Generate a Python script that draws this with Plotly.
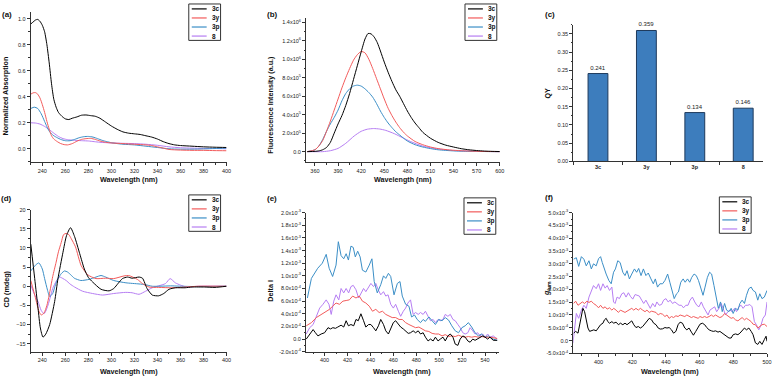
import plotly.graph_objects as go

W, H = 778, 380
FONT = "Liberation Sans, Arial, sans-serif"

names = ["3c", "3y", "3p", "8"]
colors = ["#000000", "#f25b5b", "#3b8ec6", "#b67ef2"]

# (a) normalized absorption
a_3c_x = [230,232,234,236,238,240,242,244,246,248,250,252,254,257,260,263,266,270,274,278,282,286,290,295,300,305,310,315,320,325,330,335,340,345,350,355,360,370,380,390,400]
a_3c_y = [0.96,0.975,0.99,0.995,0.98,0.95,0.9,0.8,0.66,0.5,0.38,0.32,0.28,0.25,0.23,0.225,0.235,0.245,0.258,0.26,0.255,0.25,0.235,0.205,0.175,0.15,0.13,0.12,0.115,0.11,0.1,0.09,0.075,0.055,0.04,0.03,0.025,0.02,0.015,0.012,0.01]
a_3y_x = [230,232,234,236,238,240,242,244,246,248,250,253,256,259,262,266,270,274,278,282,286,290,295,300,310,320,330,335,340,345,350,360,370,380,390,400]
a_3y_y = [0.42,0.43,0.432,0.42,0.39,0.34,0.28,0.21,0.15,0.1,0.075,0.055,0.04,0.032,0.03,0.04,0.058,0.072,0.078,0.08,0.072,0.06,0.05,0.045,0.04,0.035,0.03,0.025,0.015,0.005,-0.005,-0.01,-0.012,-0.012,-0.014,-0.015]
a_3p_x = [230,233,236,239,242,244,246,248,250,253,256,260,264,268,272,276,280,284,288,292,296,300,305,310,320,330,340,350,360,370,380,390,400]
a_3p_y = [0.31,0.32,0.31,0.27,0.21,0.17,0.135,0.115,0.1,0.085,0.072,0.062,0.062,0.072,0.085,0.093,0.095,0.09,0.078,0.065,0.055,0.047,0.04,0.035,0.03,0.02,0.01,0.0,-0.003,-0.003,-0.001,0.002,0.005]
a_8_x = [230,234,238,242,246,250,254,258,262,266,270,275,280,285,290,300,310,320,330,340,350,360,370,380,390,400]
a_8_y = [0.2,0.198,0.19,0.172,0.148,0.12,0.095,0.078,0.07,0.066,0.064,0.062,0.06,0.055,0.05,0.045,0.042,0.04,0.035,0.027,0.015,0.008,0.005,0.003,0.002,0.0]

# (b) fluorescence intensity, in units of 1e6
b_3c_x = [350,360,365,370,375,380,385,390,395,400,405,410,415,420,425,429,433,437,441,445,450,455,460,465,470,475,480,485,490,495,500,510,520,530,540,550,560,570,580,590,600]
b_3c_y = [0.0,0.003,0.008,0.02,0.045,0.1,0.2,0.3,0.39,0.5,0.63,0.78,0.93,1.08,1.22,1.28,1.275,1.24,1.18,1.09,0.97,0.86,0.76,0.67,0.6,0.52,0.44,0.37,0.31,0.26,0.21,0.145,0.1,0.07,0.05,0.032,0.02,0.012,0.006,0.003,0.001]
b_3y_x = [350,360,365,370,375,380,385,390,395,400,405,410,415,420,425,430,435,440,445,450,455,460,465,470,475,480,490,500,510,520,535,550,570,600]
b_3y_y = [0.0,0.02,0.06,0.12,0.22,0.33,0.45,0.57,0.69,0.8,0.9,0.99,1.05,1.085,1.07,1.0,0.9,0.79,0.68,0.57,0.47,0.39,0.32,0.26,0.21,0.17,0.11,0.075,0.05,0.033,0.018,0.01,0.003,0.0]
b_3p_x = [350,360,365,370,375,380,385,390,395,400,405,410,415,420,425,430,435,440,445,450,455,460,465,470,480,490,500,510,520,540,560,600]
b_3p_y = [0.0,0.02,0.06,0.13,0.22,0.3,0.37,0.45,0.55,0.63,0.68,0.71,0.72,0.71,0.68,0.64,0.59,0.52,0.44,0.37,0.31,0.26,0.215,0.18,0.115,0.075,0.05,0.033,0.02,0.008,0.003,0.0]
b_8_x = [350,370,380,390,400,411,420,428,436,444,452,463,474,484,500,520,540,570,600]
b_8_y = [0.0,0.0,0.01,0.035,0.09,0.17,0.22,0.243,0.25,0.245,0.23,0.195,0.15,0.11,0.06,0.028,0.012,0.003,0.0]
b_ticks = [0, 0.2, 0.4, 0.6, 0.8, 1.0, 1.2, 1.4]
b_ticktext = ["0.0", "2.0x10<sup>5</sup>", "4.0x10<sup>5</sup>", "6.0x10<sup>5</sup>", "8.0x10<sup>5</sup>",
              "1.0x10<sup>6</sup>", "1.2x10<sup>6</sup>", "1.4x10<sup>6</sup>"]

# (c) quantum yield
qy = [0.241, 0.359, 0.134, 0.146]

# (d) CD
d_3c_x = [230,233.4,236.3,238.3,240.6,243,246.4,250.7,253.6,257.9,261,264.5,268,272.5,276.5,280,283.7,291,298,302,306,309.6,314,318,324,327,331,335.5,341,345.5,350,355.6,364,370,381,390,400]
d_3c_y = [11,2,-5.8,-10.9,-13.3,-12.5,-10,-4,2,8.8,13.2,15.3,13,8.5,4.5,2.3,1.1,-0.8,-1.2,-0.6,0.8,2,2.4,2.1,2.4,2.1,-0.6,-2.3,-2.5,-1.9,-0.8,-0.4,-0.4,-0.2,-0.2,-0.3,0]
d_3y_x = [230,234,237,239,241.5,244,246,249,252,254,256.4,258.5,260.7,263,265,268.8,273.7,279.4,286.6,295,302,311,315,322.5,327,332.6,341,352.6,364,375.6,400]
d_3y_y = [1.5,-3,-6.5,-7.5,-7,-5,-2.3,2.5,6.3,9,11.4,13.5,13.8,13.5,12.5,10.3,5.4,3,2,2.1,2,2.7,2.8,1.8,0.7,-0.2,-0.3,-0.4,-0.2,0,0]
d_3p_x = [230,234,237,240,242,244.5,246.4,249,251,253.6,256.5,259.3,262,265,267.8,273.5,280.7,286.6,291,295,302,312.6,324,329.7,335.5,352.7,361,375.7,400]
d_3p_y = [4,5.5,6.1,4.5,2,-1,-2.7,-1.9,0,2,3.3,4,3.7,2.9,2.1,1.5,1.8,2.4,2.8,2.4,1.5,0.9,0.6,0.4,0,0.1,0,-0.1,0]
d_8_x = [230,233,236.3,239,241.5,243,245,247,249,252,255,258,260.7,264,268,275,283.7,292.4,302,312.5,318,324,329.7,335.5,341,347,351,355.5,360,365.5,375.6,400]
d_8_y = [0.3,-2,-4,-6.3,-7.2,-6.5,-4.9,-2.8,-0.6,1.3,2.4,2.0,1.5,0.6,-0.2,-1.3,-1.9,-2.3,-1.9,-1.6,-1.7,-2.1,-1.3,-0.4,0.1,0.7,2,0.9,0.3,-0.2,0,0]

# (e) delta I, in units of 1e-4
e_3c_x = [384,387,390,392,394.2,397,400,403,405.2,407.2,409.5,411.5,414.4,416.7,418.8,420.8,423,425.4,427.4,429.4,431.7,434,436,438.4,440.4,442.7,444.7,447,449,451.4,453.4,455.7,457.7,460,462,464.4,466.4,468.7,470.7,473,475,477.3,479.4,481.7,483.7,486,488,490.3,492.4,494.7,496.7,499,501,503.3,505.3,507.6,509.7,512,514,516.3,518.3,520.6,522.7,525,527,529.3,531.3,533.6,535.6,538,540,542.3,544.3,547.2,550.6]
e_3c_y = [0,0.8,1.5,1,0.5,0.8,1,1.8,1.6,1.8,1.7,1.9,2.2,1.9,2.9,2.1,2.3,2.1,3.1,2.9,4,2.9,1.9,2.3,2.3,1.8,1.3,2.1,3.1,2.3,1.3,0.8,1.8,2.6,2.9,2.3,1.9,1.6,1.3,0.9,1,1.3,1,1.3,0.8,1,0.3,-0.3,0,-0.3,0.3,-0.3,0,0.3,-0.3,0.5,0.8,0.3,-0.8,-1,0,0.5,0.3,-0.3,-0.5,0,-0.2,0,0.3,0.5,0.3,0,0.3,-0.2,-0.2]
e_3y_x = [384,388.5,392.8,397,401.4,404.3,407,410,413,416,418.8,421.6,424.5,427.4,430.3,433,436,439,441.8,444.7,447.6,450.5,453.4,456.3,459,462,465,467.8,470.7,473.6,476.5,479.4,482.3,485,488,491,493.8,496.7,499.6,502.5,505.3,508.2,511,514,516.9,519.8,522.7,525.5,528.4,531.3,534.2,537,540,544.3,550.6]
e_3y_y = [2.1,2.6,3.4,3.9,4.4,4.7,5.2,5.7,5.5,6,6.1,6.2,6.8,6.5,6.8,6,5.7,5.2,4.4,4.7,4.2,4.4,3.9,3.6,3.4,3.4,3.1,3.1,2.6,2.3,2.1,1.8,1.9,1.6,1.3,1.2,0.9,0.8,0.8,0.5,0.7,0.4,0.5,0.4,0.6,0.4,0.3,0.4,0.3,0.4,0.3,0.4,0.3,0.3,0.1]
e_3p_x = [385,388.5,394,398,401.4,404,407,410,412,414.4,416.7,418.8,420.8,423,425,426.8,428.9,431,433,436,439,441.3,443.3,446,449,451.4,453.4,455.7,457.7,460.6,463.5,465.8,467.8,470.7,473.6,475.9,478.5,480.8,483.7,486,488,491,493.8,496.7,499.6,502.5,505.3,508.2,511,514,516.9,519.8,522.7,525.5,528.4,531.3,534.2,537,540,543,547,550.6]
e_3p_y = [6.5,9.6,11.2,12,13.4,11.2,9.9,11.7,15.4,13.2,12.7,13.5,12.5,14.7,14.5,13,13.9,13,10.9,10.6,11.7,12.7,9.1,7.3,8.6,10,9.6,10.4,9.9,7,8.8,9.1,6.8,5.5,5.2,3.5,3.8,3.1,2.6,3.1,2.8,3.5,2.9,2.3,3.1,2.9,3.4,3,2.1,1.3,1,1.8,2.1,2.6,1.9,1,0.5,0.8,0.3,0.5,0,-0.2]
e_8_x = [384,387,390,392.8,395.7,398.6,401.4,403.8,405.8,408,410,412.4,414.4,416.7,418.8,421,423,425,427.4,429.7,431.7,434,436,438.4,440.4,442.7,444.7,446.8,449,451.4,453.4,455.4,457.7,460,462,464.4,466.4,468.7,470.7,472.7,475,477.3,479.4,481.7,483.7,486,488,490.3,492.4,494.7,496.7,499,501,503.3,505.3,507.6,509.7,512,514,516.3,518.3,520.6,522.7,525,527,529.3,531.3,533.6,535.6,538,540,542.3,544.3,547.2,550.6]
e_8_y = [0.8,1.8,2.3,3.6,4.9,5.5,6.2,5.5,3.9,6,7,6.2,8,7.3,8,7.3,8.3,8.5,7.8,6.5,7.3,8,7.5,8.3,8.8,8.3,8.8,7.8,7,7.5,6.8,7,5.5,4.9,5.5,4.4,3.6,4.4,4.9,5.7,6.2,3.9,4.2,3.9,4.2,3.9,4.4,3.6,2.9,3.1,2.6,3.1,2.9,3.1,3.9,3.6,3.9,3.1,2.9,2.3,1.8,1,0.8,1,1.8,1.3,0.8,1,0.5,0.8,0.3,0.8,0.3,0.5,0]
e_ticks = [-2, 0, 2, 4, 6, 8, 10, 12, 14, 16, 18, 20]
e_ticktext = ["-2.0x10<sup>-4</sup>", "0.0", "2.0x10<sup>-4</sup>", "4.0x10<sup>-4</sup>", "6.0x10<sup>-4</sup>",
              "8.0x10<sup>-4</sup>", "1.0x10<sup>-3</sup>", "1.2x10<sup>-3</sup>", "1.4x10<sup>-3</sup>",
              "1.6x10<sup>-3</sup>", "1.8x10<sup>-3</sup>", "2.0x10<sup>-3</sup>"]

# (f) g_lum, in units of 1e-3
f_3c_x = [385.2,386.4,387.8,388.8,389.8,390.7,391.7,392.7,393.7,394.7,396,397.2,398.6,400,401.2,402.6,403.5,404.5,405.5,406.5,407.9,409,410.4,411.8,413,414.4,415.7,416.9,418.3,419.7,420.9,422.2,423.6,424.8,426.2,427.6,428.7,430.1,431.5,432.7,434.1,435.4,436.6,438,439.4,440.6,441.9,443.3,444.5,445.9,447.2,448.4,449.8,451.2,452.4,453.7,455.1,456.3,457.7,459.1,460.2,461.6,463,464.2,465.6,467,468.1,469.5,470.9,472,473.4,474.8,476,477.4,478.7,479.9,481.3,482.7,483.9,485.2,486.6,487.8,489.2,490.6,491.7,493.1,494.5,495.7,497,498.4,499.4,500]
f_3c_y = [0.29,0.36,0.29,0.62,1.06,1.26,1.13,0.81,0.49,0.36,0.38,0.42,0.38,0.49,0.62,0.68,0.81,0.87,0.74,0.68,0.74,0.68,0.72,0.62,0.68,0.62,0.68,0.62,0.68,0.77,0.62,0.51,0.55,0.49,0.55,0.68,0.74,0.87,0.81,0.68,0.62,0.49,0.45,0.46,0.51,0.49,0.51,0.42,0.29,0.36,0.62,0.72,0.68,0.49,0.42,0.49,0.33,0.21,0.36,0.55,0.64,0.68,0.62,0.51,0.42,0.38,0.36,0.38,0.33,0.36,0.29,0.23,0.17,0.1,0.1,0.23,0.26,0.23,0.29,0.38,0.49,0.42,0.49,0.36,0.23,-0.09,-0.15,-0.03,-0.15,0.04,0.17,-0.03]
f_3y_x = [385.2,386.4,387.8,389.2,390.4,391.7,393.1,394.3,395.7,397,398.6,400,401.2,402.6,403.9,405.1,406.5,407.9,409,410.4,411.8,413,414.4,415.7,416.9,418.3,419.7,420.9,422.2,423.6,424.8,426.2,427.6,428.7,430.1,431.5,432.7,434.1,435.4,436.6,438,439.4,440.6,441.9,443.3,444.5,445.9,447.2,448.4,449.8,451.2,452.4,453.7,455.1,456.3,457.7,459.1,460.2,461.6,463,464.2,465.6,467,468.1,469.5,470.9,472,473.4,474.8,476,477.4,478.7,479.9,481.3,482.7,483.9,485.2,486.6,487.8,489.2,490.6,491.7,493.1,494.5,495.7,497,498.4,500]
f_3y_y = [1.45,1.54,1.38,1.45,1.51,1.45,1.54,1.49,1.54,1.45,1.38,1.28,1.38,1.26,1.32,1.23,1.28,1.19,1.26,1.19,1.1,1.19,1.13,1.1,1.15,1.19,1.26,1.19,1.26,1.19,1.26,1.19,1.13,1.19,1.1,1.15,1.13,1.1,1,1.06,1.03,0.94,1,0.87,0.94,0.9,0.97,0.94,1,0.97,0.94,1,0.94,0.9,0.94,0.9,0.87,0.94,0.9,0.94,0.9,0.94,1,0.94,1,0.94,0.9,0.94,1.06,1,0.94,0.87,0.9,0.81,0.77,0.85,0.9,0.81,0.87,0.81,0.74,0.64,0.62,0.49,0.55,0.62,0.64,0.55]
f_3p_x = [385.2,386.8,388.2,389.8,391.3,392.7,394.3,395.7,397,398.6,400,401.2,402.2,403.1,404.5,406.1,407.5,408.9,410,411.4,412.8,414.4,415.7,416.9,418.3,419.7,421.3,422.6,423.8,425.2,426.6,428.1,429.5,431.1,432.5,433.7,435,436.4,438,439.4,441,442.3,443.5,444.9,446.3,447.4,448.8,450.2,451.4,452.8,454.1,455.3,456.7,458,459.3,460.6,462,463.2,464.6,465.9,467.1,468.5,469.9,471.1,472.4,473.4,474.8,476,477.4,478.7,479.9,481.3,482.7,483.9,485.2,486.6,487.8,489.2,490.6,491.7,493.1,494.5,495.7,497,498.4,500]
f_3p_y = [3.18,3.24,2.9,3.28,3.18,2.92,3.12,2.8,3,2.92,3.2,3.28,3.05,2.86,2.6,2.35,2.22,2.67,2.8,3.12,3.05,2.67,2.54,2.73,2.41,2.6,2.8,2.67,2.82,2.54,2.8,2.54,2.64,2.41,2.22,2.41,2.09,2.22,2.22,2.35,2.6,2.28,1.96,1.64,1.83,1.9,2.28,2.41,2.28,2.41,2.28,2.47,2.6,2.54,2.35,2.03,1.77,2.09,2.47,2.67,2.6,2.15,1.7,1.26,1.51,1.13,1.45,1.19,1.13,1.26,1.06,1.26,1.19,1.45,1.58,1.45,1.77,2.03,2.09,1.96,1.9,1.58,1.83,1.64,1.7,1.96]
f_8_x = [384.8,385.8,386.8,388.2,389.8,391.3,392.7,394.3,395.7,397,398.6,400,401.2,402.6,403.9,405.1,406.5,407.9,408.9,409.8,411,412.4,413.8,415,416.3,417.7,418.9,420.3,421.7,422.8,424.2,425.6,426.8,428.1,429.5,430.7,432.1,433.5,434.6,436,437.4,438.6,440,441.3,442.5,443.9,445.3,446.5,447.8,449.2,450.4,451.8,453.1,454.3,455.7,457.1,458.3,459.6,461,462.2,463.6,465,466.1,467.5,468.9,470.1,471.5,472.8,474,475.4,476.8,478,479.3,480.7,481.9,483.3,484.6,485.8,487.2,488.6,489.8,491.1,492.5,493.7,495.1,496.5,497.6,499,500]
f_8_y = [-0.1,0.49,1.06,0.87,1.19,1.38,1.26,1.7,1.96,2.15,2.03,2.22,1.96,2.22,2.05,2.15,1.96,2.09,1.51,1.45,1.7,1.64,1.83,1.87,1.7,1.87,1.73,1.62,1.8,1.77,1.74,1.58,1.45,1.58,1.38,1.26,1.45,1.32,1.51,1.38,1.41,1.58,1.64,1.51,1.58,1.45,1.51,1.45,1.38,1.38,1.28,1.38,1.38,1.58,1.7,1.51,1.38,1.32,1.51,1.32,1.13,1,1.19,1.26,1.32,1.13,1.26,1.45,1.26,1,1.13,1.19,1.13,1.26,1.13,1.32,1.38,1.26,1.38,1.38,1.41,1.32,0.74,0.62,0.42,0.62,0.87,1,1.51]
f_ticks = [-0.5, 0, 0.5, 1.0, 1.5, 2.0, 2.5, 3.0, 3.5, 4.0, 4.5, 5.0]
f_ticktext = ["-5.0x10<sup>-4</sup>", "0.0", "5.0x10<sup>-4</sup>", "1.0x10<sup>-3</sup>", "1.5x10<sup>-3</sup>",
              "2.0x10<sup>-3</sup>", "2.5x10<sup>-3</sup>", "3.0x10<sup>-3</sup>", "3.5x10<sup>-3</sup>",
              "4.0x10<sup>-3</sup>", "4.5x10<sup>-3</sup>", "5.0x10<sup>-3</sup>"]


def px(x):
    return x / W


def py(y):
    return 1 - y / H


def axis(xd, anchor, rng, **kw):
    d = dict(domain=xd, anchor=anchor, range=rng, showline=True, linecolor="#333", linewidth=1,
             ticks="outside", ticklen=3, tickwidth=1, tickcolor="#333",
             tickfont=dict(size=5.5, color="#222", family=FONT),
             showgrid=False, zeroline=False)
    d.update(kw)
    return d


def minor(step):
    return dict(ticks="outside", ticklen=1.5, tickwidth=1, tickcolor="#333", dtick=step, showgrid=False)


fig = go.Figure()

panels = [
    ("x", "y", [(a_3c_x, a_3c_y), (a_3y_x, a_3y_y), (a_3p_x, a_3p_y), (a_8_x, a_8_y)], "spline"),
    ("x2", "y2", [(b_3c_x, b_3c_y), (b_3y_x, b_3y_y), (b_3p_x, b_3p_y), (b_8_x, b_8_y)], "spline"),
    ("x4", "y4", [(d_3c_x, d_3c_y), (d_3y_x, d_3y_y), (d_3p_x, d_3p_y), (d_8_x, d_8_y)], "spline"),
    ("x5", "y5", [(e_3c_x, e_3c_y), (e_3y_x, e_3y_y), (e_3p_x, e_3p_y), (e_8_x, e_8_y)], "linear"),
    ("x6", "y6", [(f_3c_x, f_3c_y), (f_3y_x, f_3y_y), (f_3p_x, f_3p_y), (f_8_x, f_8_y)], "linear"),
]
for xa, ya, series, shape in panels:
    # draw back to front so black sits on top like the original
    for (xs, ys), n, c in reversed(list(zip(series, names, colors))):
        line = dict(color=c, width=1)
        if shape == "spline":
            line.update(shape="spline", smoothing=0.6)
        fig.add_trace(go.Scatter(x=xs, y=ys, mode="lines", name=n, line=line,
                                 xaxis=xa, yaxis=ya, showlegend=False))

fig.add_trace(go.Bar(x=names, y=qy, xaxis="x3", yaxis="y3", width=0.41,
                     marker=dict(color="#3d7dbd", line=dict(color="#1e3a5c", width=1)),
                     text=[f"{v:.3f}" for v in qy], textposition="outside",
                     textfont=dict(size=6, family=FONT, color="#222"),
                     cliponaxis=False, showlegend=False))

top_y = [py(162), py(9.4)]
fig.update_layout(
    xaxis=axis([px(31), px(228)], "y", [230, 400], dtick=20, tick0=240, minor=minor(10)),
    yaxis=axis(top_y, "x", [-0.105, 1.05], dtick=0.2, tick0=0, tickformat=".1f", minor=minor(0.1)),
    xaxis2=axis([px(308), px(503)], "y2", [348.4, 600], dtick=30, tick0=360, minor=minor(15)),
    yaxis2=axis([py(162), py(15)], "x2", [-0.117, 1.45], tickmode="array", tickvals=b_ticks,
                ticktext=b_ticktext, minor=minor(0.1)),
    xaxis3=axis([px(577), px(768)], "y3", [-0.51, 3.41], type="category", tickson="boundaries"),
    yaxis3=axis([py(161), py(22)], "x3", [0, 0.375], dtick=0.05, tick0=0, tickformat=".2f",
                minor=minor(0.025)),
    xaxis4=axis([px(31), px(228)], "y4", [230, 400], dtick=20, tick0=240, minor=minor(10)),
    yaxis4=axis([py(354.3), py(210)], "x4", [-17.1, 20], dtick=5, tick0=0, minor=minor(2.5)),
    xaxis5=axis([px(308), px(502)], "y5", [383.8, 552], dtick=20, tick0=400, minor=minor(10)),
    yaxis5=axis([py(354.3), py(213)], "x5", [-2, 20], tickmode="array", tickvals=e_ticks,
                ticktext=e_ticktext, minor=minor(1)),
    xaxis6=axis([px(577), px(772)], "y6", [385, 500], dtick=20, tick0=400, minor=minor(10)),
    yaxis6=axis([py(356), py(213)], "x6", [-0.5, 5.0], tickmode="array", tickvals=f_ticks,
                ticktext=f_ticktext, minor=minor(0.25)),
    width=W, height=H, margin=dict(l=0, r=0, t=0, b=0),
    paper_bgcolor="white", plot_bgcolor="white",
    font=dict(family=FONT, color="#111"),
)
fig.update_layout(xaxis3=dict(tickmode="array", tickvals=names,
                              ticktext=["<b>3c</b>", "<b>3y</b>", "<b>3p</b>", "<b>8</b>"]))


def text(x, y, s, size, angle=0, anchor="center"):
    fig.add_annotation(x=px(x), y=py(y), xref="paper", yref="paper", text=s, showarrow=False,
                       textangle=angle, xanchor=anchor, yanchor="middle",
                       font=dict(size=size, family=FONT, color="#111"))


# panel labels
for lab, x, y in [("(a)", 7, 12), ("(b)", 274, 12), ("(c)", 554, 12),
                  ("(d)", 7, 199), ("(e)", 274, 199), ("(f)", 553, 198)]:
    text(x, y, f"<b>{lab}</b>", 8)

# axis titles
for x, y in [(129.5, 179), (405.5, 179), (129.5, 374), (405, 374), (674.5, 374)]:
    text(x, y, "<b>Wavelength (nm)</b>", 7.2)
text(6, 94, "<b>Normalized Absorption</b>", 7.2, -90)
text(272, 103, "<b>Fluorescence Intensity (a.u.)</b>", 7.2, -90)
text(551.5, 91, "<b>QY</b>", 7.2, -90)
text(6, 290, "<b>CD (mdeg)</b>", 7.2, -90)
text(272, 292, "<b>Delta I</b>", 7.2, -90)
text(551, 290, "<b><i>g</i><sub>lum</sub></b>", 7.2, -90)


def add_legend(left, top):
    fig.add_shape(type="rect", xref="paper", yref="paper", x0=px(left), x1=px(left + 32),
                  y0=py(top + 37), y1=py(top), line=dict(color="#333", width=1), fillcolor="white")
    for i, (n, c) in enumerate(zip(names, colors)):
        yy = top + 5 + i * 9.2
        fig.add_shape(type="line", xref="paper", yref="paper", x0=px(left + 3), x1=px(left + 18),
                      y0=py(yy), y1=py(yy), line=dict(color=c, width=1.2))
        text(left + 21, yy, f"<b>{n}</b>", 6.5, anchor="left")


for left, top in [(190, 1), (468, 1), (190, 195), (467, 198), (724, 197)]:
    add_legend(left, top)

fig.write_html("out.html", config={"displayModeBar": False, "staticPlot": True},
               post_script="document.body.style.margin='0px';")
